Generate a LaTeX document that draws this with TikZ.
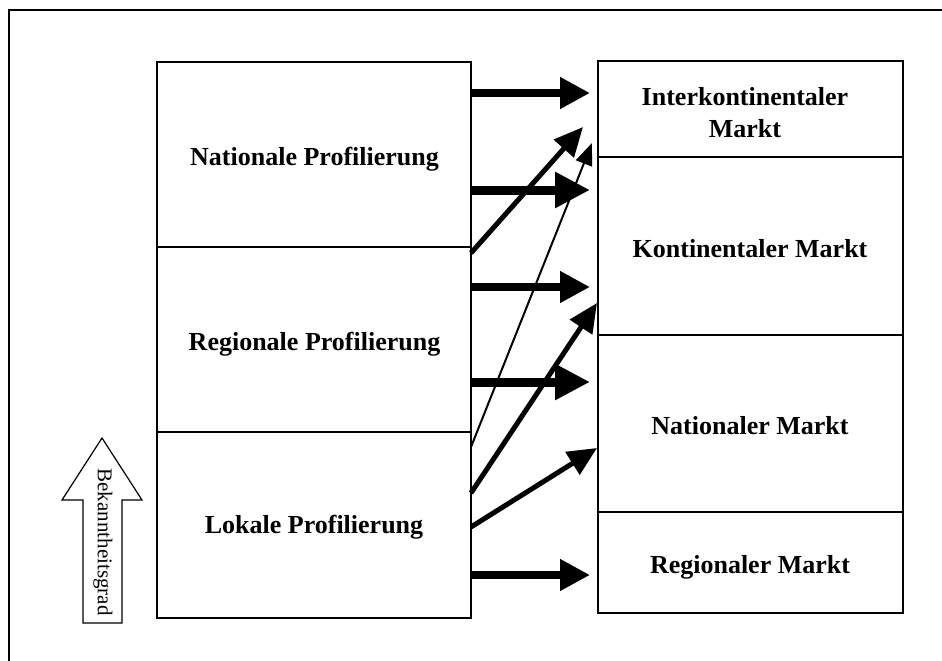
\documentclass[tikz,border=0pt]{standalone}
\usepackage{fontspec}
\setmainfont{Liberation Serif}
\usetikzlibrary{arrows.meta}
\tikzset{
  cell/.style={draw, line width=1.2pt, inner sep=0pt},
  label/.style={inner sep=0pt, anchor=base, align=center,
    font=\fontsize{26}{32}\selectfont\bfseries},
  flow/.style={line width=8pt, -{Triangle[length=30pt,width=30pt]}},
  flowbig/.style={line width=9pt, -{Triangle[length=35pt,width=34pt]}},
  slant/.style={line width=5pt, -{Triangle[length=29pt,width=26pt]}},
  slantthin/.style={line width=2pt, -{Triangle[length=22pt,width=17pt]}},
}
\begin{document}
\begin{tikzpicture}[x=1pt,y=-1pt]
\useasboundingbox (0,0) rectangle (942,661);
% outer frame (only top and left sides lie inside the page)
\draw[line width=2pt] (9,661) -- (9,10) -- (942,10);

% profiling levels
\node[cell, minimum width=314pt, minimum height=185pt] (L1) at (314,154.5) {};
\node[cell, minimum width=314pt, minimum height=185pt] (L2) at (314,339.5) {};
\node[cell, minimum width=314pt, minimum height=186pt] (L3) at (314,525) {};
\node[label] (t1) at (314.5,165) {Nationale Profilierung};
\node[label] (t2) at (314.5,350) {Regionale Profilierung};
\node[label] (t3) at (314,533) {Lokale Profilierung};

% markets
\node[cell, minimum width=305pt, minimum height=96pt] (R1) at (750.5,109) {};
\node[cell, minimum width=305pt, minimum height=178pt] (R2) at (750.5,246) {};
\node[cell, minimum width=305pt, minimum height=177pt] (R3) at (750.5,423.5) {};
\node[cell, minimum width=305pt, minimum height=101pt] (R4) at (750.5,562.5) {};
\node[label] (m1) at (745,137) {Interkontinentaler\\Markt};
\node[label] (m2) at (750,257) {Kontinentaler Markt};
\node[label] (m3) at (750,434) {Nationaler Markt};
\node[label] (m4) at (750,573) {Regionaler Markt};

% arrow end points
\coordinate (a1s) at (471,93);   \coordinate (a1e) at (590,93);
\coordinate (a2s) at (471,190);  \coordinate (a2e) at (590,190);
\coordinate (a3s) at (471,287);  \coordinate (a3e) at (590,287);
\coordinate (a4s) at (471,382);  \coordinate (a4e) at (590,382);
\coordinate (a5s) at (471,575);  \coordinate (a5e) at (590,575);
\coordinate (dAs) at (471,253);  \coordinate (dAe) at (583,127);
\coordinate (dBs) at (471,447);  \coordinate (dBe) at (592,143);
\coordinate (dCs) at (471,493);  \coordinate (dCe) at (597,303);
\coordinate (dDs) at (471,527);  \coordinate (dDe) at (597,448);

\draw[flow] (a1s) -- (a1e);
\draw[flowbig] (a2s) -- (a2e);
\draw[flow] (a3s) -- (a3e);
\draw[flowbig] (a4s) -- (a4e);
\draw[flow] (a5s) -- (a5e);
\draw[slant] (dAs) -- (dAe);
\draw[slantthin] (dBs) -- (dBe);
\draw[slant] (dCs) -- (dCe);
\draw[slant] (dDs) -- (dDe);

% awareness block arrow
\draw[line width=1.2pt, fill=white]
  (83,623) -- (83,500) -- (62,500) -- (102,438) -- (142,500) -- (122,500) -- (122,623) -- cycle;
\node[rotate=-90, font=\fontsize{21}{25}\selectfont, inner sep=0pt] (bk) at (103,542) {Bekanntheitsgrad};
\end{tikzpicture}
\end{document}
